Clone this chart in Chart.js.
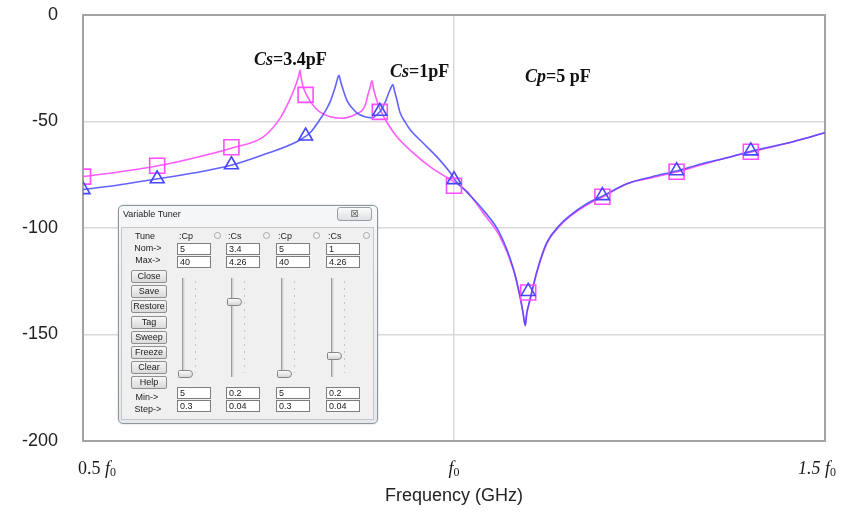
<!DOCTYPE html>
<html>
<head>
<meta charset="utf-8">
<script src="https://cdn.jsdelivr.net/npm/chart.js@4.4.1/dist/chart.umd.min.js"></script>
<style>
  html, body { margin: 0; padding: 0; background: #fff; }
  #wrap { position: relative; width: 862px; height: 513px; overflow: hidden; }
  #plot { position: absolute; left: 0; top: 0; }
  .note { position: absolute; font: bold 18px/18px "Liberation Serif", "Times New Roman", serif; color: #111; white-space: nowrap; }
  .note i { font-style: italic; }
  #tuner { position: absolute; left: 118px; top: 205px; width: 258px; height: 217px;
           border: 1px solid #8f969e; border-radius: 5px;
           background: linear-gradient(#f6f7f9, #e4e8ec); box-shadow: 0 0 2px rgba(0,0,0,0.25);
           font: 9px/11px "Liberation Sans", Arial, sans-serif; color: #222; }
  #tuner div { position: absolute; box-sizing: border-box; white-space: nowrap; }
  .t-panel { background: #f0f0f0; border: 1px solid #c6c6c6; }
  .t-close { border: 1px solid #9a9ea4; border-radius: 3px; background: linear-gradient(#fbfbfb, #dde1e5);
             text-align: center; font: 10px/11px "DejaVu Sans", sans-serif; color: #6b6b6b; }
  .t-lab { text-align: center; width: 34px; }
  .t-btn { width: 36px; height: 13px; border: 1px solid #8e8f8f; border-radius: 2px;
           background: linear-gradient(#f6f6f6, #dadada); text-align: center; line-height: 11px; }
  .t-box { width: 34px; height: 12px; border: 1px solid #7d7d7d; background: #fff; padding-left: 2px; line-height: 10px; }
  .t-dot { width: 7px; height: 7px; border: 1px solid #a5a5a5; border-radius: 50%; background: #f3f3f3; }
  .t-track { width: 3px; height: 99px; border-left: 1px solid #9c9c9c; border-right: 1px solid #e2e2e2; background: #cfcfcf; }
  .t-ticks { width: 1px; height: 92px; background: repeating-linear-gradient(#c4c4c4 0 2px, transparent 2px 7px); }
  .t-thumb { width: 15px; height: 8px; border: 1px solid #858585; border-radius: 2px 5px 5px 2px;
             background: linear-gradient(#fbfbfb, #d6d6d6); }
</style>
</head>
<body>
<div id="wrap">
  <canvas id="plot" width="862" height="513"></canvas>
  <div class="note" style="left:254px; top:50px;"><i>Cs</i>=3.4pF</div>
  <div class="note" style="left:390px; top:62px;"><i>Cs</i>=1pF</div>
  <div class="note" style="left:525px; top:67px;"><i>Cp</i>=5 pF</div>
  <div id="tuner"></div>
</div>
<script>
// Frequency axis in units of f0, response in dB.
// Cs = 3.4 pF trace
const csHighFreq = [0.500, 0.550, 0.601, 0.651, 0.702, 0.743, 0.766, 0.779, 0.785, 0.789, 0.7915, 0.7925,
  0.794, 0.797, 0.802, 0.808, 0.819, 0.833, 0.850, 0.869, 0.877, 0.881, 0.884, 0.887, 0.8895,
  0.8915, 0.895, 0.900, 0.910, 0.923, 0.945, 0.968, 0.991, 1.004, 1.018, 1.039, 1.062, 1.080,
  1.089, 1.093, 1.096, 1.098, 1.102, 1.112, 1.125, 1.143, 1.156, 1.179, 1.201, 1.233, 1.267,
  1.301, 1.334, 1.368, 1.402, 1.457, 1.500];
const csHighLoss = [-75.9, -73.6, -70.8, -67.0, -62.3, -57.2, -48.3, -39.5, -34.5, -30.5, -27.5, -25.8,
  -29.5, -34.0, -38.0, -41.5, -45.5, -47.8, -48.5, -46.4, -44.5, -41.7, -37.5, -34.0, -30.9,
  -34.5, -39.0, -44.0, -50.6, -57.2, -64.7, -71.3, -76.4, -79.2, -83.0, -92.8, -104.1, -119.5,
  -132.2, -139.7, -145.8, -140.2, -134.5, -120.5, -107.3, -98.9, -94.7, -89.1, -85.3, -79.2, -76.4,
  -73.6, -70.3, -67.0, -64.2, -59.5, -55.3];

// Cs = 1 pF trace
const csLowFreq = [0.500, 0.550, 0.601, 0.651, 0.702, 0.743, 0.788, 0.806, 0.819, 0.8275, 0.833, 0.8396,
  0.842, 0.845, 0.8475, 0.8505, 0.856, 0.8625, 0.869, 0.880, 0.8895, 0.896, 0.903, 0.908, 0.912,
  0.915, 0.9175, 0.920, 0.923, 0.927, 0.934, 0.941, 0.958, 0.977, 0.995, 1.001, 1.018, 1.039,
  1.062, 1.080, 1.089, 1.093, 1.096, 1.098, 1.102, 1.112, 1.125, 1.143, 1.156, 1.179, 1.201,
  1.233, 1.267, 1.301, 1.334, 1.368, 1.402, 1.457, 1.500];
const csLowLoss = [-82.0, -79.7, -76.9, -74.1, -70.3, -65.6, -59.5, -55.3, -49.2, -44.5, -40.8, -34.2,
  -31.2, -28.3, -31.6, -35.0, -40.3, -43.6, -45.9, -47.8, -48.3, -46.9, -44.1, -40.3, -36.6,
  -34.2, -32.6, -35.8, -39.8, -45.5, -50.2, -53.9, -60.0, -66.6, -74.1, -77.3, -83.4, -91.4,
  -102.7, -119.1, -132.2, -139.7, -145.8, -140.2, -134.1, -120.0, -106.9, -98.4, -94.2, -88.6, -84.8,
  -79.2, -75.9, -73.1, -69.8, -67.0, -63.8, -59.5, -55.3];

// Marker samples
const markerFreq = [0.5, 0.6, 0.7, 0.8, 0.9, 1.0, 1.1, 1.2, 1.3, 1.4];
const csHighMarks = [-75.9, -70.8, -62.1, -37.5, -45.5, -80.2, -130.3, -85.3, -73.6, -64.2];
const csLowMarks = [-82.0, -76.9, -70.3, -56.8, -45.2, -77.3, -129.8, -84.8, -73.1, -63.8];

// Axis ticks
const yTickValues = [0, -50, -100, -150, -200];
const xTickValues = [0.5, 1.0, 1.5];
const xTickNumbers = ['0.5 ', '', '1.5 '];
const xTickUnit = 'f';
const xTickSub = '0';

// Tuner panel contents
const tunerColumns = [
  { name: ':Cp', nom: '5', max: '40', min: '5', step: '0.3' },
  { name: ':Cs', nom: '3.4', max: '4.26', min: '0.2', step: '0.04' },
  { name: ':Cp', nom: '5', max: '40', min: '5', step: '0.3' },
  { name: ':Cs', nom: '1', max: '4.26', min: '0.2', step: '0.04' }
];
const tunerButtons = ['Close', 'Save', 'Restore', 'Tag', 'Sweep', 'Freeze', 'Clear', 'Help'];

const pts = (xs, ys) => xs.map((x, i) => ({ x: x, y: ys[i] }));

// Box around the plotting area
const frame = {
  id: 'frame',
  beforeDatasetsDraw(chart) {
    const { ctx, chartArea: a } = chart;
    ctx.save();
    ctx.strokeStyle = '#a3a3a3';
    ctx.lineWidth = 2;
    ctx.strokeRect(a.left, a.top, a.right - a.left, a.bottom - a.top);
    ctx.restore();
  }
};

// Frequency tick labels written as "0.5 f0" with italic f and subscript 0
const freqLabels = {
  id: 'freqLabels',
  afterDraw(chart) {
    const { ctx } = chart;
    const sx = chart.scales.x;
    const shift = [14, 0, -8];
    const base = 474;
    ctx.save();
    ctx.fillStyle = '#1a1a1a';
    ctx.textBaseline = 'alphabetic';
    ctx.textAlign = 'left';
    xTickValues.forEach((v, i) => {
      const numFont = (i === 2 ? 'italic ' : '') + '18px "Liberation Serif", serif';
      const fFont = 'italic 18px "Liberation Serif", serif';
      const subFont = '12px "Liberation Serif", serif';
      ctx.font = numFont; const w1 = ctx.measureText(xTickNumbers[i]).width;
      ctx.font = fFont; const w2 = ctx.measureText(xTickUnit).width;
      ctx.font = subFont; const w3 = ctx.measureText(xTickSub).width;
      let x = sx.getPixelForValue(v) + shift[i] - (w1 + w2 + w3) / 2;
      ctx.font = numFont; ctx.fillText(xTickNumbers[i], x, base); x += w1;
      ctx.font = fFont; ctx.fillText(xTickUnit, x, base); x += w2;
      ctx.font = subFont; ctx.fillText(xTickSub, x, base + 2);
    });
    ctx.restore();
  }
};

new Chart(document.getElementById('plot'), {
  type: 'scatter',
  data: {
    datasets: [
      { data: pts(markerFreq, csLowMarks), showLine: false, pointStyle: 'triangle', pointRadius: 8,
        pointBorderColor: '#4646ff', pointBackgroundColor: 'rgba(0,0,0,0)', pointBorderWidth: 1.6 },
      { data: pts(markerFreq, csHighMarks), showLine: false, pointStyle: 'rect', pointRadius: 10.6,
        pointBorderColor: '#ff4dff', pointBackgroundColor: 'rgba(0,0,0,0)', pointBorderWidth: 1.6 },
      { data: pts(csLowFreq, csLowLoss), showLine: true, pointRadius: 0, borderColor: 'rgba(70,70,255,0.85)',
        borderWidth: 1.6, cubicInterpolationMode: 'monotone' },
      { data: pts(csHighFreq, csHighLoss), showLine: true, pointRadius: 0, borderColor: '#ff5cff',
        borderWidth: 1.6, cubicInterpolationMode: 'monotone' }
    ]
  },
  options: {
    responsive: false,
    animation: false,
    devicePixelRatio: 1,
    events: [],
    layout: { padding: { top: 15, right: 37, left: 0, bottom: 0 } },
    plugins: { legend: { display: false }, tooltip: { enabled: false } },
    scales: {
      x: {
        type: 'linear', min: 0.5, max: 1.5,
        afterBuildTicks: s => { s.ticks = xTickValues.map(v => ({ value: v })); },
        afterFit: s => { s.height = 72; s.paddingLeft = 0; s.paddingRight = 0; },
        grid: { color: '#d9d9d9', lineWidth: 1.5, drawTicks: false },
        border: { display: false },
        ticks: { display: false },
        title: { display: true, text: 'Frequency (GHz)', color: '#222',
                 font: { family: '"Liberation Sans", Arial, sans-serif', size: 18 },
                 padding: { top: 0, bottom: 6 } }
      },
      y: {
        type: 'linear', min: -200, max: 0,
        afterBuildTicks: s => { s.ticks = yTickValues.map(v => ({ value: v })); },
        afterFit: s => { s.width = 83; s.paddingTop = 0; s.paddingBottom = 0; },
        grid: { color: '#d9d9d9', lineWidth: 1.5, drawTicks: false },
        border: { display: false },
        ticks: { color: '#222', padding: 25,
                 font: { family: '"Liberation Sans", Arial, sans-serif', size: 18 } }
      }
    }
  },
  plugins: [frame, freqLabels]
});

// Tuner dialog built with page coordinates relative to its origin
const tuner = document.getElementById('tuner');
const ox = 119, oy = 206;
function put(cls, x, y, w, h, text) {
  const d = document.createElement('div');
  d.className = cls;
  d.style.left = (x - ox) + 'px';
  d.style.top = (y - oy) + 'px';
  if (w) d.style.width = w + 'px';
  if (h) d.style.height = h + 'px';
  if (text !== undefined) d.textContent = text;
  tuner.appendChild(d);
  return d;
}
put('', 123, 209, 0, 0, 'Variable Tuner');
put('t-close', 337, 207, 35, 14, '\u22A0');
put('t-panel', 121, 227, 253, 193);
put('t-lab', 128, 231, 0, 0, 'Tune');
put('t-lab', 131, 243, 0, 0, 'Nom->');
put('t-lab', 131, 255, 0, 0, 'Max->');
put('t-lab', 130, 392, 0, 0, 'Min->');
put('t-lab', 131, 404, 0, 0, 'Step->');
tunerButtons.forEach((b, i) => put('t-btn', 131, Math.round(270 + 15.2 * i), 0, 0, b));
const colLeft = [177, 226, 276, 326];
const thumbTop = [370, 298, 370, 352];
tunerColumns.forEach((c, i) => {
  const bx = colLeft[i];
  put('', bx + 2, 231, 0, 0, c.name);
  put('t-dot', bx + 37, 232);
  put('t-box', bx, 243, 0, 0, c.nom);
  put('t-box', bx, 256, 0, 0, c.max);
  put('t-track', bx + 5, 278);
  put('t-ticks', bx + 18, 281);
  put('t-thumb', bx + 1, thumbTop[i]);
  put('t-box', bx, 387, 0, 0, c.min);
  put('t-box', bx, 400, 0, 0, c.step);
});
</script>
</body>
</html>
